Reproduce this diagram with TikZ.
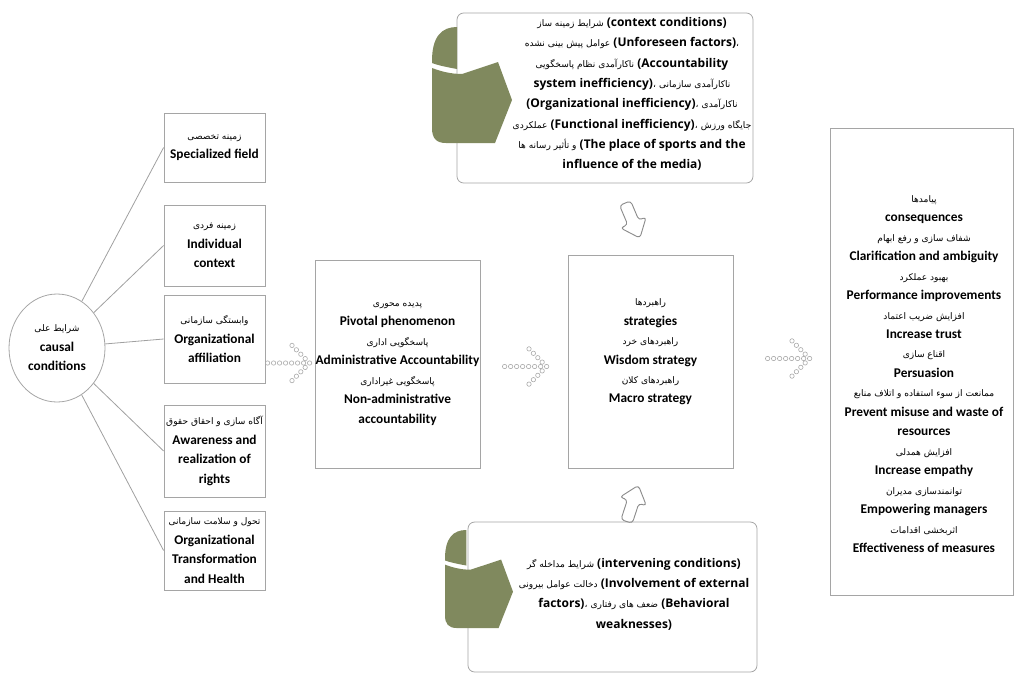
\documentclass[tikz,border=0pt]{standalone}
\usepackage{fontspec}
\setmainfont{Carlito}
\newfontfamily\opensans{Open Sans}
\newfontfamily\farsi[Script=Arabic]{DejaVu Sans}
\TeXXeTstate=1
\usetikzlibrary{shapes.geometric,calc}

\definecolor{boxgray}{RGB}{165,165,165}
\definecolor{linegray}{RGB}{160,160,160}
\definecolor{ringgray}{RGB}{170,170,170}
\definecolor{arrowgray}{RGB}{140,140,140}
\definecolor{scrollgreen}{RGB}{128,137,94}

% persian words, regular weight
\newcommand{\fa}[1]{{\farsi\mdseries\fontsize{6.8}{8}\selectfont\beginR #1\endR}}

% arrow made of small rings, #1 = tip
\newcommand{\ringarrow}[1]{%
  \foreach \k in {0,...,7} \draw[ring] ($(#1)+(-6*\k,0)$) circle (2.2);
  \foreach \k in {1,...,4} {
    \draw[ring] ($(#1)+(-4.4*\k,-4.4*\k)$) circle (2.2);
    \draw[ring] ($(#1)+(-4.4*\k,4.4*\k)$) circle (2.2);
  }}

% thick outlined arrow, #1 = centre, #2 = direction
\newcommand{\fatarrow}[2]{%
  \draw[hollow,shift={(#1)},rotate=#2] (-19,-6) -- (2,-6) -- (2,-14) -- (19,0)
    -- (2,14) -- (2,6) -- (-19,6) -- cycle;}

% rolled paper: front part, then top part
\newcommand{\scrollbody}[1]{%
  \fill[scrollgreen,#1] (0,41) .. controls (8,44) and (18,47) .. (30,47) -- (66,35)
    -- (80,73) -- (63,116) -- (14,116) .. controls (4,116) and (0,111) .. (0,101) -- cycle;}
\newcommand{\scrollcurl}[1]{%
  \fill[scrollgreen,#1] (0,34) .. controls (0,9) and (10,0) .. (25,0) -- (25,42)
    .. controls (14,40) and (5,38) .. (0,36) -- cycle;}

\tikzset{
  framebox/.style={draw=boxgray,line width=0.6pt,fill=white,inner sep=0pt,align=center,
    font=\bfseries\fontsize{10}{14.6}\selectfont},
  txt/.style={inner sep=0pt,align=center,font=\bfseries\fontsize{10}{14.6}\selectfont},
  sidetxt/.style={inner sep=0pt,align=center,font=\opensans\bfseries\fontsize{9}{15.2}\selectfont},
  link/.style={draw=linegray,line width=0.6pt},
  ring/.style={draw=ringgray,line width=0.45pt},
  hollow/.style={draw=arrowgray,line width=0.7pt,rounded corners=2.5pt,line join=round}
}

\begin{document}
\begin{tikzpicture}[x=0.75pt,y=-0.75pt]
\useasboundingbox (0,0) rectangle (1017,679);

% causal conditions
\node[ellipse,draw=boxgray,line width=0.6pt,minimum width=72pt,minimum height=81pt,inner sep=0pt,
  align=center,font=\bfseries\fontsize{10}{14.6}\selectfont] (causal) at (57,348)
  {\fa{شرایط علی}\\causal\\conditions};

\node[framebox,minimum width=75.75pt,minimum height=51.75pt] (spec) at (214.5,147.5)
  {\fa{زمینه تخصصی}\\Specialized field};
\node[framebox,minimum width=75.75pt,minimum height=60.75pt] (indiv) at (214.5,245.5)
  {\fa{زمینه فردی}\\Individual\\context};
\node[framebox,minimum width=75.75pt,minimum height=66pt] (affil) at (214.5,339)
  {\fa{وابستگی سازمانی}\\Organizational\\affiliation};
\node[framebox,minimum width=75.75pt,minimum height=69pt] (aware) at (214.5,451)
  {\fa{آگاه سازی و احقاق حقوق}\\Awareness and\\realization of\\rights};
\node[framebox,minimum width=75.75pt,minimum height=59.25pt] (trans) at (214.5,550.5)
  {\fa{تحول و سلامت سازمانی}\\Organizational\\Transformation\\and Health};

\draw[link] (causal) -- (spec.west);
\draw[link] (causal) -- (indiv.west);
\draw[link] (causal) -- (affil.west);
\draw[link] (causal) -- (aware.west);
\draw[link] (causal) -- (trans.west);

% pivotal phenomenon
\node[framebox,minimum width=123.75pt,minimum height=156pt] (pivot) at (397.5,364)
  {\fa{پدیده محوری}\\Pivotal phenomenon\\\fa{پاسخگویی اداری}\\Administrative Accountability\\
   \fa{پاسخگویی غیراداری}\\Non-administrative\\accountability};

% strategies
\node[framebox,minimum width=123.75pt,minimum height=159.75pt] (strat) at (650.5,361.5) {};
\node[txt] (strattext) at (650.5,352)
  {\fa{راهبردها}\\strategies\\\fa{راهبردهای خرد}\\Wisdom strategy\\\fa{راهبردهای کلان}\\Macro strategy};

% consequences
\node[framebox,minimum width=137.25pt,minimum height=350.25pt] (conseq) at (921.5,361.5) {};
\node[txt] (conseqtext) at (924,374)
  {\fa{پیامدها}\\consequences\\\fa{شفاف سازی و رفع ابهام}\\Clarification and ambiguity\\
   \fa{بهبود عملکرد}\\Performance improvements\\\fa{افزایش ضریب اعتماد}\\Increase trust\\
   \fa{اقناع سازی}\\Persuasion\\\fa{ممانعت از سوء استفاده و اتلاف منابع}\\Prevent misuse and waste of\\resources\\
   \fa{افزایش همدلی}\\Increase empathy\\\fa{توانمندسازی مدیران}\\Empowering managers\\
   \fa{اثربخشی اقدامات}\\Effectiveness of measures};

% context conditions
\node[framebox,rounded corners=5pt,minimum width=222pt,minimum height=127.5pt] (ctx) at (605,98) {};
\scrollbody{shift={(432,27)}}
\scrollcurl{shift={(432,27)}}
\node[sidetxt] (ctxtext) at (632,94)
  {\fa{شرایط زمینه ساز} (context conditions)\\
   \fa{عوامل پیش بینی نشده} (Unforeseen factors)\fa{،}\\
   \fa{ناکارآمدی نظام پاسخگویی} (Accountability\\
   system inefficiency)\fa{،} \fa{ناکارآمدی سازمانی}\\
   (Organizational inefficiency)\fa{،} \fa{ناکارآمدی}\\
   \fa{عملکردی} (Functional inefficiency)\fa{،} \fa{جایگاه ورزش}\\
   \fa{و تأثیر رسانه ها} (The place of sports and the\\
   influence of the media)};

% intervening conditions
\node[framebox,rounded corners=5pt,minimum width=216.75pt,minimum height=112.5pt] (interv) at (612.5,597) {};
\scrollbody{shift={(445,530)},xscale=0.85,yscale=0.845}
\scrollcurl{shift={(445,530)},xscale=0.85,yscale=0.845}
\node[sidetxt] (intervtext) at (634,594)
  {\fa{شرایط مداخله گر} (intervening conditions)\\
   \fa{دخالت عوامل بیرونی} (Involvement of external\\
   factors)\fa{،} \fa{ضعف های رفتاری} (Behavioral\\
   weaknesses)};

% ring arrows between the boxes
\coordinate (tipA) at ($(pivot.west)+(-5,-1)$);
\coordinate (tipB) at ($(strat.west)+(-21,5)$);
\coordinate (tipC) at ($(conseq.west)+(-20,-3)$);
\ringarrow{tipA}
\ringarrow{tipB}
\ringarrow{tipC}

% thick arrows into strategies
\coordinate (downmid) at ($(strat.north)+(-18,-34)$);
\coordinate (upmid) at ($(strat.south)+(-18,35)$);
\fatarrow{downmid}{-67}
\fatarrow{upmid}{72}
\end{tikzpicture}
\end{document}
